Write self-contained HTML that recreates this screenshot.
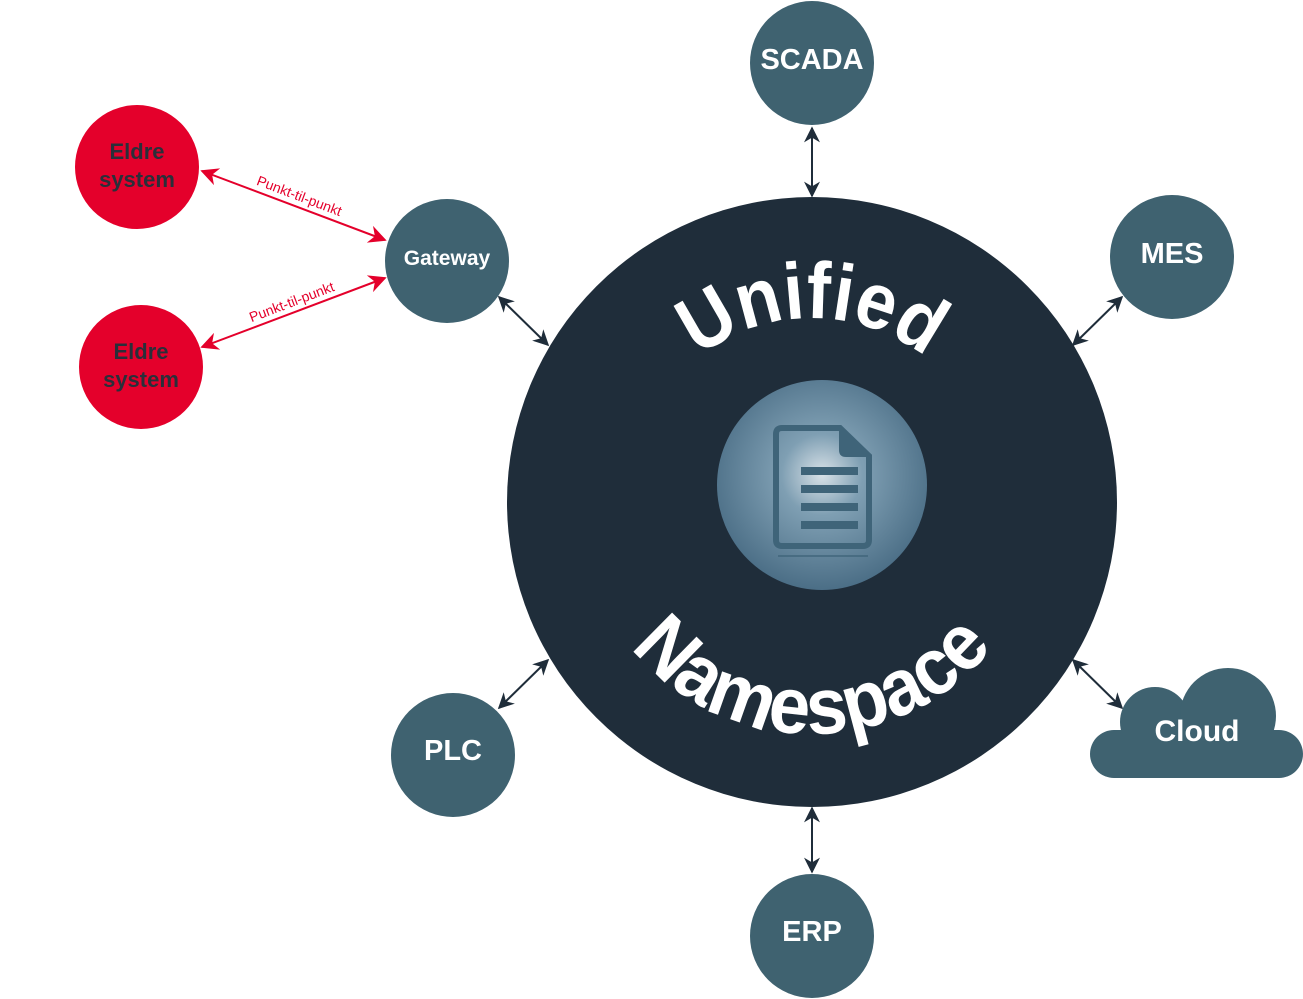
<!DOCTYPE html>
<html><head><meta charset="utf-8"><style>
html,body{margin:0;padding:0;background:#fff;}
svg{display:block;}
</style></head><body>
<svg width="1303" height="999" viewBox="0 0 1303 999" xmlns="http://www.w3.org/2000/svg" font-family="Liberation Sans, sans-serif">
<defs>
<radialGradient id="ig" cx="50%" cy="45%" r="55%">
<stop offset="0" stop-color="#d9e2e8"/>
<stop offset="0.35" stop-color="#7f9fb3"/>
<stop offset="1" stop-color="#4b6e86"/>
</radialGradient>
<marker id="ad" viewBox="0 0 10 10" refX="9" refY="5" markerWidth="8" markerHeight="8" orient="auto-start-reverse"><path d="M0,0 L10,5 L0,10 L3,5z" fill="#1f2d3a"/></marker>
<marker id="ar" viewBox="0 0 10 10" refX="9" refY="5" markerWidth="9" markerHeight="9" orient="auto-start-reverse"><path d="M0,0 L10,5 L0,10 L3,5z" fill="#e4002b"/></marker>
<path id="top" d="M628,502 A184,184 0 0 1 996,502"/>
<path id="bot" d="M580,502 A232,232 0 0 0 1044,502"/>
<path id="r1" d="M206,172 L385,240"/>
<path id="r2" d="M206,346 L385,278"/>
</defs>

<g stroke="#1f2d3a" stroke-width="2" marker-start="url(#ad)" marker-end="url(#ad)">
<line x1="812" y1="128" x2="812" y2="196"/>
<line x1="812" y1="808" x2="812" y2="872"/>
<line x1="499" y1="297" x2="548" y2="345"/>
<line x1="1122" y1="297" x2="1073" y2="345"/>
<line x1="499" y1="708" x2="548" y2="660"/>
<line x1="1073" y1="660" x2="1122" y2="708"/>
</g>
<g stroke="#e4002b" stroke-width="2" marker-start="url(#ar)" marker-end="url(#ar)">
<line x1="202" y1="171" x2="385" y2="240"/>
<line x1="202" y1="347" x2="385" y2="278"/>
</g>
<g fill="#e4002b" font-size="14">
<text dy="-6"><textPath href="#r1" startOffset="50%" text-anchor="middle">Punkt-til-punkt</textPath></text>
<text dy="-6"><textPath href="#r2" startOffset="50%" text-anchor="middle">Punkt-til-punkt</textPath></text>
</g>

<circle cx="812" cy="502" r="305" fill="#1f2d3a"/>
<circle cx="822" cy="485" r="105" fill="url(#ig)"/>
<path d="M782,428 H840 L869,456 V540 Q869,546 863,546 H782 Q776,546 776,540 V434 Q776,428 782,428 Z" fill="none" stroke="#3f6479" stroke-width="6"/>
<path d="M839,428 V450 Q839,457 846,457 H870 Z" fill="#3f6479"/>
<g fill="#3f6479"><rect x="801" y="467" width="57" height="8"/><rect x="801" y="485" width="57" height="8"/><rect x="801" y="503" width="57" height="8"/><rect x="801" y="521" width="57" height="8"/></g>
<rect x="778" y="555" width="90" height="2" fill="#3f6479" opacity="0.7"/>

<g fill="#fff" font-weight="bold">
<text font-size="80"><textPath href="#top" startOffset="50%" text-anchor="middle" textLength="245" lengthAdjust="spacingAndGlyphs">Unified</textPath></text>
<text font-size="80"><textPath href="#bot" startOffset="50%" text-anchor="middle" textLength="415" lengthAdjust="spacingAndGlyphs">Namespace</textPath></text>
</g>

<g fill="#3f6270">
<circle cx="812" cy="63" r="62"/>
<circle cx="1172" cy="257" r="62"/>
<circle cx="447" cy="261" r="62"/>
<circle cx="453" cy="755" r="62"/>
<circle cx="812" cy="936" r="62"/>
<circle cx="1155" cy="722" r="35"/>
<circle cx="1228" cy="716" r="48"/>
<rect x="1090" y="730" width="213" height="48" rx="24"/>
</g>
<g fill="#e4002b">
<circle cx="137" cy="167" r="62"/>
<circle cx="141" cy="367" r="62"/>
</g>
<g fill="#fff" font-weight="bold" text-anchor="middle">
<text x="812" y="69" font-size="29">SCADA</text>
<text x="1172" y="263" font-size="29">MES</text>
<text x="447" y="265" font-size="21">Gateway</text>
<text x="453" y="760" font-size="29">PLC</text>
<text x="812" y="941" font-size="29">ERP</text>
<text x="1197" y="741" font-size="30">Cloud</text>
</g>
<g fill="#2a2f3a" font-weight="bold" text-anchor="middle" font-size="22">
<text x="137" y="159">Eldre</text><text x="137" y="187">system</text>
<text x="141" y="359">Eldre</text><text x="141" y="387">system</text>
</g>
</svg>
</body></html>
